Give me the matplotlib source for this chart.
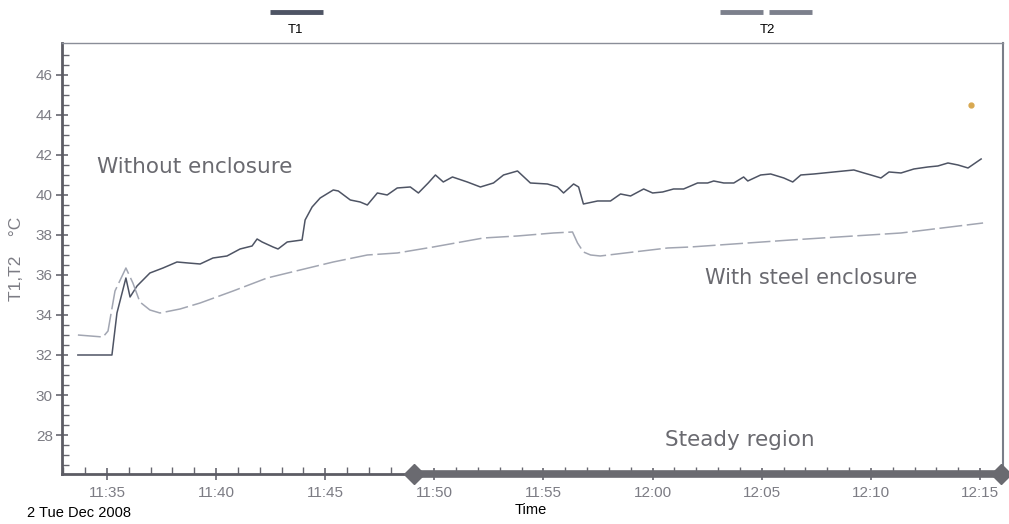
import pandas as pd
import matplotlib
matplotlib.use('Agg')
import matplotlib.pyplot as plt
import matplotlib.dates as mdates

# minutes after 11:30
t1_min = [3.67, 5.23, 5.46, 5.87, 6.06, 6.38, 6.97, 7.57, 8.21, 8.72, 9.27, 9.86, 10.5,
          11.1, 11.65, 11.88, 12.11, 12.61, 12.84, 13.26, 13.94, 14.08, 14.4, 14.77,
          15.37, 15.6, 16.15, 16.6, 16.93, 17.39, 17.84, 18.3, 18.9, 19.27, 19.72, 20.05,
          20.41, 20.83, 21.51, 22.11, 22.71, 23.17, 23.81, 24.4, 25.18, 25.64, 25.92,
          26.38, 26.61, 26.83, 27.48, 28.07, 28.53, 28.99, 29.59, 30.0, 30.46, 30.96,
          31.42, 32.06, 32.52, 32.8, 33.26, 33.72, 34.17, 34.36, 34.95, 35.41, 36.01,
          36.42, 36.79, 37.39, 38.3, 39.22, 39.68, 40.0, 40.46, 40.83, 41.38, 41.97,
          42.61, 43.07, 43.53, 43.99, 44.45, 45.05]
t1_val = [32.0, 32.0, 34.1, 35.85, 34.9, 35.45, 36.1, 36.35, 36.65, 36.6, 36.55, 36.85,
          36.95, 37.3, 37.45, 37.8, 37.65, 37.4, 37.3, 37.65, 37.75, 38.75, 39.4, 39.85,
          40.25, 40.2, 39.75, 39.65, 39.5, 40.1, 40.0, 40.35, 40.4, 40.1, 40.6, 41.0,
          40.65, 40.9, 40.65, 40.4, 40.6, 41.0, 41.2, 40.6, 40.55, 40.4, 40.1, 40.55,
          40.4, 39.55, 39.7, 39.7, 40.05, 39.95, 40.3, 40.1, 40.15, 40.3, 40.3, 40.6,
          40.6, 40.7, 40.6, 40.6, 40.9, 40.7, 41.0, 41.05, 40.85, 40.65, 41.0, 41.05,
          41.15, 41.25, 41.1, 41.0, 40.85, 41.15, 41.1, 41.3, 41.4, 41.45, 41.6, 41.5,
          41.35, 41.8]

t2_min = [3.67, 4.82, 5.05, 5.37, 5.87, 6.19, 6.51, 6.97, 7.43, 8.35, 9.27, 10.78, 12.34,
          13.85, 15.37, 16.93, 18.3, 19.95, 22.25, 23.8, 25.46, 26.33, 26.56, 26.83, 27.16,
          27.6, 29.13, 30.69, 31.74, 36.33, 41.38, 45.14]
t2_val = [33.0, 32.9, 33.2, 35.2, 36.35, 35.6, 34.65, 34.25, 34.1, 34.3, 34.6, 35.2, 35.85,
          36.25, 36.65, 37.0, 37.1, 37.4, 37.85, 37.95, 38.1, 38.15, 37.6, 37.15, 37.0,
          36.95, 37.15, 37.35, 37.4, 37.75, 38.1, 38.6]

steady_min = [19.08, 45.96]

base = pd.Timestamp('2008-12-02 11:30:00')
t1_time = base + pd.to_timedelta(t1_min, unit='m')
t2_time = base + pd.to_timedelta(t2_min, unit='m')
steady_time = base + pd.to_timedelta(steady_min, unit='m')

plt.rcParams['font.family'] = ['Liberation Sans', 'DejaVu Sans']

fig = plt.figure(figsize=(10.09, 5.24), dpi=100)
ax = fig.add_axes([0.0614, 0.0954, 0.9326, 0.8226])

ax.plot(t1_time, t1_val, color='#4e5464', linewidth=1.1)
ax.plot(t2_time, t2_val, color='#a2a6b2', linewidth=1.1, dashes=(15, 3))

x0 = base + pd.Timedelta(minutes=2.94)
x1 = base + pd.Timedelta(minutes=46.05)
ax.set_xlim(x0, x1)
ax.set_ylim(26.05, 47.6)

# steady region bar along the time axis
ax.plot(steady_time, [26.05, 26.05], color='#6a6a70', linewidth=5.5, marker='D',
        markersize=10, clip_on=False, zorder=5)

ax.xaxis.set_major_locator(mdates.MinuteLocator(byminute=range(0, 60, 5)))
ax.xaxis.set_minor_locator(mdates.MinuteLocator())
ax.xaxis.set_major_formatter(mdates.DateFormatter('%H:%M'))
ax.set_yticks(range(28, 47, 2))
ax.set_yticks([v / 2 for v in range(53, 95)], minor=True)

ax.tick_params(axis='both', which='major', direction='inout', length=9, width=1.2,
               colors='#666670', labelsize=11, labelcolor='#7c7c84')
ax.tick_params(axis='both', which='minor', direction='in', length=5, width=1,
               colors='#666670')
ax.tick_params(axis='x', which='major', pad=4)
ax.tick_params(axis='y', which='major', pad=2)

ax.spines['left'].set_linewidth(2)
ax.spines['left'].set_color('#5c5c64')
ax.spines['bottom'].set_linewidth(2)
ax.spines['bottom'].set_color('#5c5c64')
ax.spines['top'].set_linewidth(1)
ax.spines['top'].set_color('#8a8e98')
ax.spines['right'].set_linewidth(1.5)
ax.spines['right'].set_color('#7a7e88')

ax.set_ylabel('T1,T2    \u00b0C', color='#7c7c84', fontsize=12.5)
ax.yaxis.set_label_coords(-0.040, 0.5)

note_font = ['DejaVu Sans']
ax.text(0.037, 0.712, 'Without enclosure', transform=ax.transAxes, fontsize=15.5,
        color='#6a6a70', family=note_font, va='center')
ax.text(0.683, 0.455, 'With steel enclosure', transform=ax.transAxes, fontsize=15,
        color='#6a6a70', family=note_font, va='center')
ax.text(0.641, 0.08, 'Steady region', transform=ax.transAxes, fontsize=15.5,
        color='#6a6a70', family=note_font, va='center')

# stray marker near top right
ax.plot([base + pd.Timedelta(minutes=44.6)], [44.5], marker='o', markersize=3.5,
        color='#d8a850', linestyle='none')

# legend-like header
hy = 1 - 12 / 524
fig.add_artist(plt.Line2D([270 / 1009, 323 / 1009], [hy, hy], color='#4e5464',
                          linewidth=3.5, solid_capstyle='butt'))
fig.text(296 / 1009, 1 - 30 / 524, 'T1', ha='center', va='center', fontsize=9.5,
         color='black')
fig.add_artist(plt.Line2D([720 / 1009, 763 / 1009], [hy, hy], color='#7c808c',
                          linewidth=3.5, solid_capstyle='butt'))
fig.add_artist(plt.Line2D([769 / 1009, 812 / 1009], [hy, hy], color='#7c808c',
                          linewidth=3.5, solid_capstyle='butt'))
fig.text(767 / 1009, 1 - 30 / 524, 'T2', ha='center', va='center', fontsize=9.5,
         color='black')

fig.text(27 / 1009, 1 - 513 / 524, '2 Tue Dec 2008', ha='left', va='center',
         fontsize=10.5, color='black')
fig.text(531 / 1009, 1 - 510 / 524, 'Time', ha='center', va='center',
         fontsize=10.5, color='black')

fig.savefig('out.png', dpi=100)
